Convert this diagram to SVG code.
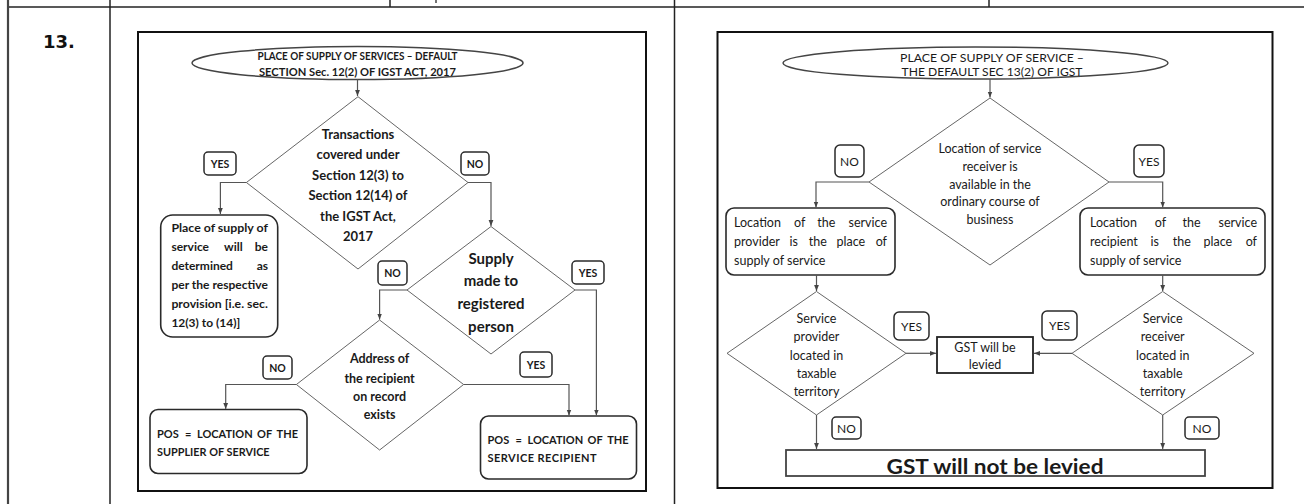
<svg xmlns="http://www.w3.org/2000/svg" width="1304" height="504" viewBox="0 0 1304 504">
<style>
.t{font-family:"Lato","Liberation Sans",Arial,sans-serif;fill:#1a1a1a}
.b{font-weight:bold}
.c{text-anchor:middle}
.e{text-anchor:end}
.frame{fill:#fff;stroke:#111;stroke-width:2}
.tbl{stroke:#222;stroke-width:1.5;fill:none}
.ln{fill:none;stroke:#555;stroke-width:1.2}
.dia{fill:#fff;stroke:#666;stroke-width:1}
.box{fill:#fff;stroke:#2a2a2a;stroke-width:1.6}
.lab{fill:#fff;stroke:#2a2a2a;stroke-width:1.5}
.ell{fill:#fff;stroke:#444;stroke-width:1.5}
.f105{font-size:10.5px}.f11{font-size:11px}.f115{font-size:11.5px}.f12{font-size:12px}.f125{font-size:12.5px}.f13{font-size:13px}.f15{font-size:15px}
</style>
<defs>
<marker id="ah" viewBox="0 0 10 10" refX="10" refY="5" markerWidth="6" markerHeight="6" orient="auto" markerUnits="userSpaceOnUse">
<path d="M0,1 L10,5 L0,9 z" fill="#444"/>
</marker>
</defs>
<rect width="1304" height="504" fill="#fff"/>
<g id="table">
<line class="tbl" x1="8" y1="7" x2="1304" y2="7"/>
<line x1="8" y1="0" x2="8" y2="504" stroke="#444" stroke-width="2.2"/>
<line class="tbl" x1="110" y1="0" x2="110" y2="504"/>
<line class="tbl" x1="674.5" y1="0" x2="674.5" y2="504"/>
<line class="tbl" x1="390" y1="0" x2="390" y2="7"/>
<line class="tbl" x1="989" y1="0" x2="989" y2="7"/>
<line x1="436" y1="0" x2="436" y2="3" stroke="#444" stroke-width="1.5"/>
<text x="43" y="48" style="font-family:'DejaVu Sans',sans-serif;font-weight:bold;font-size:18px;fill:#111">13.</text>
</g>
<g id="chart-left">
<rect class="frame" x="138" y="32" width="508" height="459"/>
<g id="l-start">
<ellipse class="ell" cx="357.5" cy="63" rx="165.5" ry="16.5"/>
<text class="t b c f105" x="357.5" y="59.5" textLength="200" lengthAdjust="spacingAndGlyphs">PLACE OF SUPPLY OF SERVICES – DEFAULT</text>
<text class="t b c f105" x="357.5" y="76" textLength="197" lengthAdjust="spacingAndGlyphs">SECTION Sec. 12(2) OF IGST ACT, 2017</text>
</g>
<g id="l-d1">
<polygon class="dia" points="358,96.7 468,182.5 358,269 246.4,182.5"/>
<text class="t b c f13" x="358" y="138.5">Transactions</text>
<text class="t b c f13" x="358" y="159">covered under</text>
<text class="t b c f13" x="358" y="179.5">Section 12(3) to</text>
<text class="t b c f13" x="358" y="200">Section 12(14) of</text>
<text class="t b c f13" x="358" y="220.5">the  IGST Act,</text>
<text class="t b c f13" x="358" y="241">2017</text>
</g>
<g id="l-yes1"><rect class="lab" x="204" y="152" width="32" height="23" rx="4"/><text class="t b c f105" x="220" y="167.5">YES</text></g>
<g id="l-no1"><rect class="lab" x="461" y="152" width="28" height="23" rx="4"/><text class="t b c f105" x="475" y="167.5">NO</text></g>
<g id="l-prov">
<rect class="box" x="160.7" y="215" width="117" height="122" rx="12"/>
<text class="t b f12" x="171.4" y="232" textLength="96.5" lengthAdjust="spacingAndGlyphs">Place of supply of</text>
<text class="t b f12" y="251"><tspan x="171.4">service</tspan><tspan x="224">will</tspan></text>
<text class="t b f12 e" x="268" y="251">be</text>
<text class="t b f12" x="171.4" y="270">determined</text>
<text class="t b f12 e" x="268" y="270">as</text>
<text class="t b f12" x="171.4" y="289" textLength="96.5" lengthAdjust="spacingAndGlyphs">per the respective</text>
<text class="t b f12" x="171.4" y="308" textLength="96.5" lengthAdjust="spacingAndGlyphs">provision [i.e. sec.</text>
<text class="t b f12" x="171.4" y="326.5">12(3) to (14)]</text>
</g>
<g id="l-d2">
<polygon class="dia" points="491,226.5 575,290 491,354 407,290"/>
<text class="t b c f15" x="491" y="263.5">Supply</text>
<text class="t b c f15" x="491" y="286.3">made to</text>
<text class="t b c f15" x="491" y="309">registered</text>
<text class="t b c f15" x="491" y="331.8">person</text>
</g>
<g id="l-no2"><rect class="lab" x="378" y="261" width="29" height="24" rx="4"/><text class="t b c f105" x="392.5" y="277">NO</text></g>
<g id="l-yes2"><rect class="lab" x="572" y="261" width="32" height="23" rx="4"/><text class="t b c f105" x="588" y="276.5">YES</text></g>
<g id="l-d3">
<polygon class="dia" points="379.6,320 463.6,384.5 379.6,450 296.4,384.5"/>
<text class="t b c f125" x="379.6" y="363.3">Address of</text>
<text class="t b c f125" x="379.6" y="382.6">the recipient</text>
<text class="t b c f125" x="379.6" y="400.6">on record</text>
<text class="t b c f125" x="379.6" y="419.3">exists</text>
</g>
<g id="l-no3"><rect class="lab" x="263" y="356" width="29" height="23" rx="4"/><text class="t b c f105" x="277.5" y="371.5">NO</text></g>
<g id="l-yes3"><rect class="lab" x="520" y="352" width="32" height="25" rx="4"/><text class="t b c f105" x="536" y="368.5">YES</text></g>
<g id="l-supplier">
<rect class="box" x="150" y="409.5" width="157" height="64" rx="8"/>
<text class="t b f11" y="437.8"><tspan x="157">POS</tspan><tspan x="185">=</tspan><tspan x="197">LOCATION</tspan><tspan x="257">OF</tspan></text>
<text class="t b f11 e" x="298" y="437.8">THE</text>
<text class="t b f11" x="157" y="456.2" textLength="112.6" lengthAdjust="spacingAndGlyphs">SUPPLIER OF SERVICE</text>
</g>
<g id="l-recipient">
<rect class="box" x="480.5" y="416" width="156" height="63" rx="8"/>
<text class="t b f11" y="443.8"><tspan x="487.5">POS</tspan><tspan x="515.5">=</tspan><tspan x="527.5">LOCATION</tspan><tspan x="587.5">OF</tspan></text>
<text class="t b f11 e" x="628.6" y="443.8">THE</text>
<text class="t b f11" x="487.5" y="462.2" textLength="109" lengthAdjust="spacing">SERVICE RECIPIENT</text>
</g>
<g id="l-connectors">
<path class="ln" marker-end="url(#ah)" d="M357.5,79.5 V96"/>
<path class="ln" marker-end="url(#ah)" d="M246.4,182.5 H220.4 V214"/>
<path class="ln" marker-end="url(#ah)" d="M468,182.5 H491 V226"/>
<path class="ln" marker-end="url(#ah)" d="M407,290 H379.6 V319.5"/>
<path class="ln" marker-end="url(#ah)" d="M575,290 H596.4 V415.5"/>
<path class="ln" marker-end="url(#ah)" d="M296.4,384.5 H225.7 V409"/>
<path class="ln" marker-end="url(#ah)" d="M463.6,384.5 H569 V415.5"/>
</g>
</g>
<g id="chart-right">
<rect class="frame" x="717.5" y="32" width="555" height="456"/>
<g id="r-start">
<ellipse class="ell" cx="975.5" cy="63" rx="192.5" ry="16"/>
<text class="t c f12" x="992" y="62" textLength="184" lengthAdjust="spacingAndGlyphs">PLACE OF SUPPLY OF SERVICE –</text>
<text class="t c f12" x="992" y="75.5" textLength="181" lengthAdjust="spacingAndGlyphs">THE DEFAULT SEC 13(2) OF IGST</text>
</g>
<g id="r-d1">
<polygon class="dia" points="990,98 1109,182 990,265 869,182"/>
<text class="t c f125" x="990" y="153">Location of service</text>
<text class="t c f125" x="990" y="170.5">receiver is</text>
<text class="t c f125" x="990" y="188.5">available in the</text>
<text class="t c f125" x="990" y="206">ordinary course of</text>
<text class="t c f125" x="990" y="224">business</text>
</g>
<g id="r-no1"><rect class="lab" x="835" y="145" width="29" height="32" rx="5"/><text class="t c f12" x="849.5" y="165.5">NO</text></g>
<g id="r-yes1"><rect class="lab" x="1134" y="145" width="30" height="32" rx="5"/><text class="t c f12" x="1149" y="165.5">YES</text></g>
<g id="r-provider">
<rect class="box" x="726" y="208" width="169" height="67" rx="8"/>
<text class="t f125" y="226.5"><tspan x="734">Location</tspan><tspan x="794">of</tspan><tspan x="817.2">the</tspan></text>
<text class="t f125 e" x="887" y="226.5">service</text>
<text class="t f125" y="245.5"><tspan x="734">provider</tspan><tspan x="789.5">is</tspan><tspan x="808.8">the</tspan><tspan x="836.5">place</tspan></text>
<text class="t f125 e" x="887" y="245.5">of</text>
<text class="t f125" x="734" y="264.5">supply of service</text>
</g>
<g id="r-recipient">
<rect class="box" x="1080" y="208" width="185" height="67" rx="8"/>
<text class="t f125" y="226.5"><tspan x="1090">Location</tspan><tspan x="1154.7">of</tspan><tspan x="1182.6">the</tspan></text>
<text class="t f125 e" x="1257" y="226.5">service</text>
<text class="t f125" y="245.5"><tspan x="1090">recipient</tspan><tspan x="1150.5">is</tspan><tspan x="1172.8">the</tspan><tspan x="1203.5">place</tspan></text>
<text class="t f125 e" x="1257" y="245.5">of</text>
<text class="t f125" x="1090" y="264.5">supply of service</text>
</g>
<g id="r-d2">
<polygon class="dia" points="816.5,291.5 906,353.3 816.5,415 727,353.3"/>
<text class="t c f125" x="816.5" y="323">Service</text>
<text class="t c f125" x="816.5" y="341">provider</text>
<text class="t c f125" x="816.5" y="359.5">located in</text>
<text class="t c f125" x="816.5" y="378">taxable</text>
<text class="t c f125" x="816.5" y="396">territory</text>
</g>
<g id="r-d3">
<polygon class="dia" points="1162.7,291.5 1254,353.3 1162.7,415 1072,353.3"/>
<text class="t c f125" x="1162.7" y="323">Service</text>
<text class="t c f125" x="1162.7" y="341">receiver</text>
<text class="t c f125" x="1162.7" y="359.5">located in</text>
<text class="t c f125" x="1162.7" y="378">taxable</text>
<text class="t c f125" x="1162.7" y="396">territory</text>
</g>
<g id="r-gst">
<rect x="937" y="337" width="96" height="36" fill="#fff" stroke="#222" stroke-width="1.8"/>
<text class="t c f125" x="985" y="351.5">GST will be</text>
<text class="t c f125" x="985" y="368.5">levied</text>
</g>
<g id="r-yes2"><rect class="lab" x="894" y="312" width="35" height="28" rx="5"/><text class="t c f12" x="911.5" y="330.5">YES</text></g>
<g id="r-yes3"><rect class="lab" x="1042" y="311" width="35" height="29" rx="5"/><text class="t c f12" x="1059.5" y="330">YES</text></g>
<g id="r-no2"><rect class="lab" x="832" y="417" width="29" height="22" rx="4"/><text class="t c f12" x="846.5" y="432.5">NO</text></g>
<g id="r-no3"><rect class="lab" x="1185" y="417" width="34" height="22" rx="4"/><text class="t c f12" x="1202" y="432.5">NO</text></g>
<g id="r-notlevied">
<rect x="786" y="450" width="419" height="26" fill="#fff" stroke="#444" stroke-width="1.8"/>
<text class="t b c" x="995" y="473.5" style="font-size:21px" textLength="217" lengthAdjust="spacingAndGlyphs">GST will not be levied</text>
</g>
<g id="r-connectors">
<path class="ln" marker-end="url(#ah)" d="M990,79 V97.5"/>
<path class="ln" marker-end="url(#ah)" d="M869,182 H816 V207.5"/>
<path class="ln" marker-end="url(#ah)" d="M1109,182 H1162.7 V207.5"/>
<path class="ln" marker-end="url(#ah)" d="M816.5,275 V291"/>
<path class="ln" marker-end="url(#ah)" d="M1162.7,275 V291"/>
<path class="ln" marker-end="url(#ah)" d="M906,353.3 H936"/>
<path class="ln" marker-end="url(#ah)" d="M1072,353.3 H1034"/>
<path class="ln" marker-end="url(#ah)" d="M816.5,415 V449"/>
<path class="ln" marker-end="url(#ah)" d="M1162.7,415 V449"/>
</g>
</g>
</svg>
